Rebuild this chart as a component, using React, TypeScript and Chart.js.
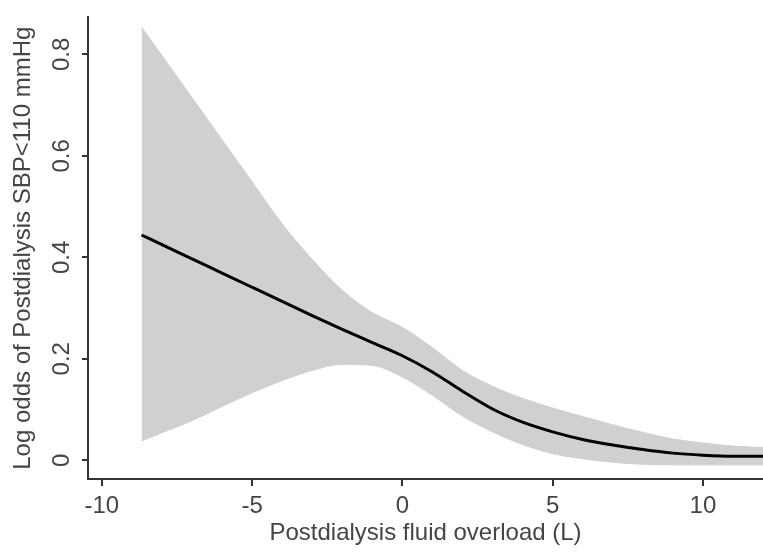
import React, { useEffect, useRef } from "react";
import { Chart, registerables } from "chart.js";

Chart.register(...registerables);

// Fluid overload (L)
const xValues = [-8.68, -8, -7, -6, -5, -4, -3, -2, -1, 0, 1, 2, 3, 4, 5, 6, 7, 8, 9, 10, 11, 12];
// Upper 95% CI
const upperCI = [0.854, 0.798, 0.715, 0.632, 0.549, 0.466, 0.396, 0.335, 0.291, 0.262, 0.222, 0.177, 0.146, 0.122, 0.103, 0.086, 0.070, 0.055, 0.042, 0.034, 0.028, 0.025];
// Lower 95% CI
const lowerCI = [0.038, 0.054, 0.078, 0.106, 0.133, 0.157, 0.177, 0.189, 0.187, 0.164, 0.128, 0.087, 0.056, 0.031, 0.013, 0.003, -0.004, -0.008, -0.009, -0.009, -0.009, -0.009];
// Fitted log odds
const fitValues = [0.444, 0.425, 0.397, 0.369, 0.341, 0.313, 0.285, 0.258, 0.232, 0.206, 0.174, 0.136, 0.101, 0.075, 0.056, 0.041, 0.030, 0.021, 0.014, 0.010, 0.008, 0.008];

const xTicks = [-10, -5, 0, 5, 10];
const yTicks = [0, 0.2, 0.4, 0.6, 0.8];
const xTitle = "Postdialysis fluid overload (L)";
const yTitle = "Log odds of Postdialysis SBP<110 mmHg";

const FONT = "'Liberation Sans', Arial, sans-serif";
const TEXT = "#454545";
const AXIS = "#333333";
const BAND = "#d0d0d0";

export default function App() {
  const ref = useRef<HTMLCanvasElement>(null);

  useEffect(() => {
    const pts = (ys: number[]) => xValues.map((x, i) => ({ x, y: ys[i] }));
    const chart = new Chart(ref.current!, {
      type: "line",
      data: {
        datasets: [
          {
            data: pts(fitValues),
            borderColor: "#000000",
            borderWidth: 3,
            pointRadius: 0,
            fill: false,
            cubicInterpolationMode: "monotone",
            order: 0,
          },
          {
            data: pts(upperCI),
            borderColor: BAND,
            borderWidth: 1,
            backgroundColor: BAND,
            pointRadius: 0,
            fill: "+1",
            cubicInterpolationMode: "monotone",
            order: 1,
          },
          {
            data: pts(lowerCI),
            borderColor: BAND,
            borderWidth: 1,
            pointRadius: 0,
            fill: false,
            cubicInterpolationMode: "monotone",
            order: 2,
          },
        ],
      },
      options: {
        animation: false,
        responsive: false,
        layout: { padding: { top: 10, left: 0, right: 0, bottom: 0 } },
        plugins: { legend: { display: false }, tooltip: { enabled: false } },
        scales: {
          x: {
            type: "linear",
            min: -10.46,
            max: 12.0,
            afterBuildTicks: (s: any) => {
              s.ticks = xTicks.map((v) => ({ value: v }));
            },
            afterFit: (s: any) => {
              s.height = 76;
            },
            grid: { drawOnChartArea: false, drawTicks: true, tickLength: 7, color: AXIS, lineWidth: 2 },
            border: { display: true, color: AXIS, width: 2 },
            ticks: {
              color: TEXT,
              font: { family: FONT, size: 24 },
              padding: 6,
              maxRotation: 0,
              callback: (v: any) => String(v),
            },
            title: {
              display: true,
              text: xTitle,
              color: TEXT,
              font: { family: FONT, size: 24 },
              padding: { top: 0, bottom: 7 },
            },
          },
          y: {
            type: "linear",
            min: -0.037,
            max: 0.873,
            afterBuildTicks: (s: any) => {
              s.ticks = yTicks.map((v) => ({ value: v }));
            },
            afterFit: (s: any) => {
              s.width = 88;
            },
            grid: { drawOnChartArea: false, drawTicks: true, tickLength: 6, color: AXIS, lineWidth: 2 },
            border: { display: true, color: AXIS, width: 2 },
            ticks: {
              color: TEXT,
              font: { family: FONT, size: 24 },
              padding: 3,
              minRotation: 90,
              maxRotation: 90,
              crossAlign: "center",
              callback: (v: any) => (v === 0 ? "0" : Number(v).toFixed(1)),
            },
            title: {
              display: true,
              text: yTitle,
              color: TEXT,
              font: { family: FONT, size: 24 },
              padding: { top: 9, bottom: 0 },
            },
          },
        },
      },
    });
    return () => chart.destroy();
  }, []);

  return (
    <div style={{ position: "absolute", left: 0, top: 0, width: 763, height: 555, background: "#fff" }}>
      <canvas ref={ref} width={763} height={555} />
    </div>
  );
}
